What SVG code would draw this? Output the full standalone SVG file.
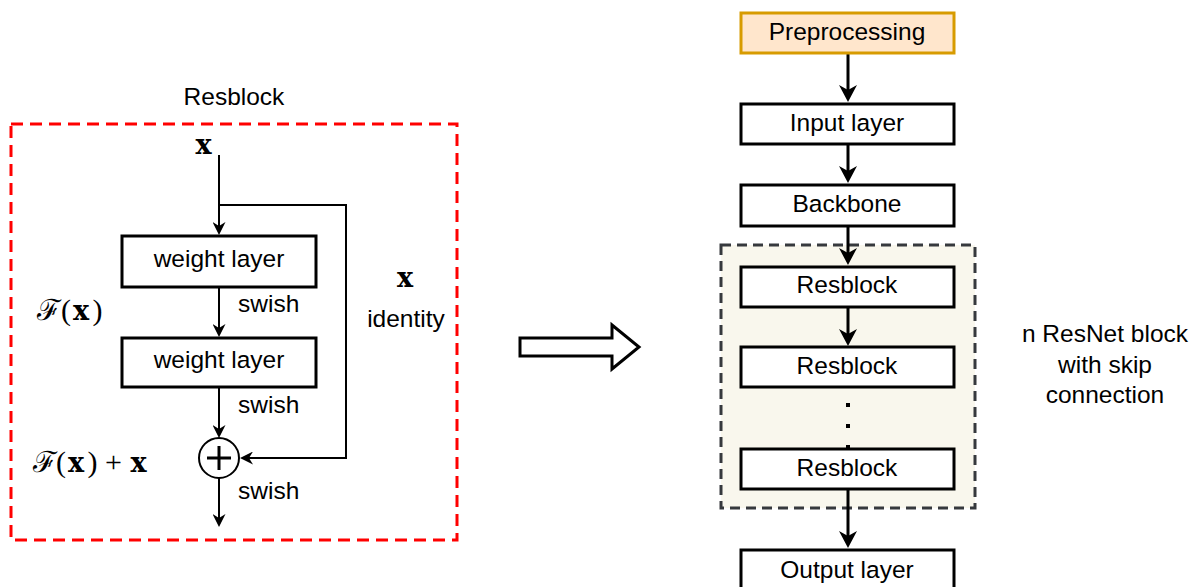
<svg xmlns="http://www.w3.org/2000/svg" width="1193" height="587" viewBox="0 0 1193 587">
<defs>
<style>
.lbl{font-family:"Liberation Sans",Arial,sans-serif;font-size:24.5px;fill:#000}
.c{text-anchor:middle}
.box{fill:#fff;stroke:#000;stroke-width:3}
.math{font-family:"DejaVu Serif","Liberation Serif",serif;font-size:27px;fill:#000;text-anchor:middle}
.mb{font-weight:bold}
.par{font-family:"Liberation Serif","DejaVu Serif",serif;font-size:30px;font-weight:normal}
.cal{font-family:"DejaVu Serif","Liberation Serif",serif;font-size:29px;font-weight:normal}
.ln2{fill:none;stroke:#000;stroke-width:2}
.ln3{fill:none;stroke:#000;stroke-width:3}
</style>
<marker id="aS" viewBox="0 0 13 13" markerUnits="userSpaceOnUse" markerWidth="13" markerHeight="13" refX="4" refY="6.5" orient="auto">
<path d="M0,0 L13,6.5 L0,13 L4,6.5 Z" fill="#000"/>
</marker>
<marker id="aL" viewBox="0 0 17 18" markerUnits="userSpaceOnUse" markerWidth="17" markerHeight="18" refX="5" refY="9" orient="auto">
<path d="M0,0 L17,9 L0,18 L5,9 Z" fill="#000"/>
</marker>
</defs>
<rect width="1193" height="587" fill="#fff"/>

<!-- Left: Resblock detail -->
<g id="resblock-frame">
<rect x="11" y="124" width="446" height="416" fill="none" stroke="#ff0000" stroke-width="3" stroke-dasharray="12 7"/>
<text class="lbl c" x="234" y="105">Resblock</text>
</g>

<g id="connectors-left">
<line class="ln2" x1="219" y1="155" x2="219" y2="226" marker-end="url(#aS)"/>
<line class="ln2" x1="219" y1="288" x2="219" y2="328" marker-end="url(#aS)"/>
<line class="ln2" x1="219" y1="388" x2="219" y2="429" marker-end="url(#aS)"/>
<line class="ln2" x1="219" y1="478" x2="219" y2="518" marker-end="url(#aS)"/>
<path class="ln2" d="M219,205 H346 V458 H249" marker-end="url(#aS)"/>
</g>

<g id="input-x">
<text class="math mb" x="203.5" y="154">x</text>
</g>

<g id="weight-layer-1">
<rect class="box" x="122" y="236" width="194" height="51"/>
<text class="lbl c" x="219" y="267">weight layer</text>
</g>

<g id="weight-layer-2">
<rect class="box" x="122" y="338" width="194" height="49"/>
<text class="lbl c" x="219" y="368">weight layer</text>
</g>

<g id="sum">
<circle cx="219" cy="458" r="20" fill="#fff" stroke="#000" stroke-width="2"/>
<path d="M207,458 H231 M219,446 V470" stroke="#000" stroke-width="3" fill="none"/>
</g>

<g id="labels-left">
<text class="lbl" x="238" y="312">swish</text>
<text class="lbl" x="238" y="413">swish</text>
<text class="lbl" x="238" y="499">swish</text>
<text class="math mb" x="405" y="287">x</text>
<text class="lbl c" x="406" y="327">identity</text>
<text class="math"><tspan class="cal" x="49" y="320">ℱ</tspan><tspan class="par" x="66" y="320">(</tspan><tspan class="mb" x="81" y="320">x</tspan><tspan class="par" x="97.5" y="320">)</tspan></text>
<text class="math"><tspan class="cal" x="44.5" y="472">ℱ</tspan><tspan class="par" x="61" y="472">(</tspan><tspan class="mb" x="76" y="472">x</tspan><tspan class="par" x="92.5" y="472">)</tspan><tspan class="par" x="113.5" y="472">+</tspan><tspan class="mb" x="138.5" y="472">x</tspan></text>
</g>

<!-- Middle hollow arrow -->
<g id="transform-arrow">
<path d="M520,338 H612 V325 L639,347 L612,369 V356 H520 Z" fill="#fff" stroke="#000" stroke-width="3" stroke-linejoin="miter"/>
</g>

<!-- Right: network -->
<g id="resnet-group">
<rect x="721" y="245" width="254" height="263" fill="#f9f7ed" stroke="#36393d" stroke-width="3" stroke-dasharray="10 6"/>
</g>

<g id="connectors-right">
<line class="ln3" x1="848" y1="54" x2="848" y2="90" marker-end="url(#aL)"/>
<line class="ln3" x1="848" y1="145" x2="848" y2="171" marker-end="url(#aL)"/>
<line class="ln3" x1="848" y1="227" x2="848" y2="253" marker-end="url(#aL)"/>
<line class="ln3" x1="848" y1="308" x2="848" y2="334" marker-end="url(#aL)"/>
<line x1="848" y1="403" x2="848" y2="448" stroke="#000" stroke-width="4" stroke-dasharray="4 17"/>
<line class="ln3" x1="848" y1="490" x2="848" y2="536" marker-end="url(#aL)"/>
</g>

<g id="preprocessing">
<rect x="741" y="13" width="213" height="40" fill="#ffe6cc" stroke="#d79b00" stroke-width="3"/>
<text class="lbl c" x="847" y="40">Preprocessing</text>
</g>

<g id="input-layer">
<rect class="box" x="741" y="104" width="213" height="40"/>
<text class="lbl c" x="847" y="131">Input layer</text>
</g>

<g id="backbone">
<rect class="box" x="741" y="185" width="213" height="41"/>
<text class="lbl c" x="847" y="212">Backbone</text>
</g>

<g id="resblock-1">
<rect class="box" x="741" y="267" width="213" height="40"/>
<text class="lbl c" x="847" y="293">Resblock</text>
</g>

<g id="resblock-2">
<rect class="box" x="741" y="347" width="213" height="40"/>
<text class="lbl c" x="847" y="374">Resblock</text>
</g>

<g id="resblock-n">
<rect class="box" x="741" y="449" width="213" height="40"/>
<text class="lbl c" x="847" y="476">Resblock</text>
</g>

<g id="output-layer">
<rect class="box" x="741" y="550" width="213" height="45"/>
<text class="lbl c" x="847" y="578">Output layer</text>
</g>

<g id="resnet-label">
<text class="lbl c" x="1105" y="342">n ResNet block</text>
<text class="lbl c" x="1105" y="373">with skip</text>
<text class="lbl c" x="1105" y="403">connection</text>
</g>
</svg>
